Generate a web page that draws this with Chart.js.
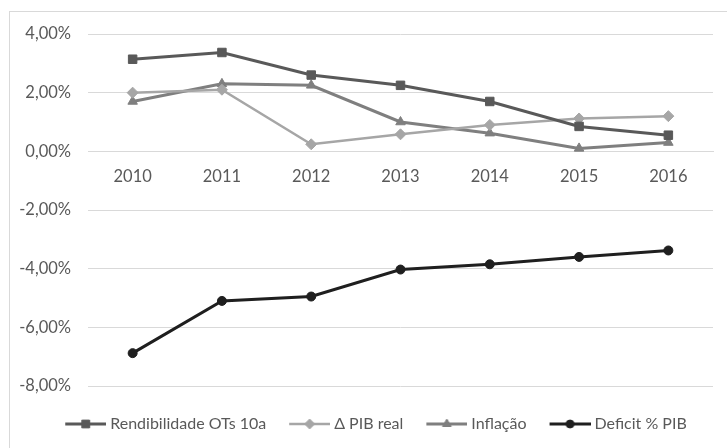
<!DOCTYPE html>
<html>
<head>
<meta charset="utf-8">
<script src="https://cdn.jsdelivr.net/npm/chart.js@4/dist/chart.umd.min.js"></script>
<style>
  html, body { margin: 0; padding: 0; background: #fff; overflow: hidden; }
  #wrap { position: relative; width: 727px; height: 448px; }
  #frame { position: absolute; left: 9px; top: 11px; width: 740px; height: 460px;
           border-left: 1px solid #d9d9d9; border-top: 1px solid #d9d9d9; box-sizing: border-box; }
  #chart { position: absolute; left: 0; top: 0; }
</style>
</head>
<body>
<div id="wrap">
  <div id="frame"></div>
  <canvas id="chart" width="727" height="448"></canvas>
</div>
<script>
// ---- data ----
const years = ['2010', '2011', '2012', '2013', '2014', '2015', '2016'];
const seriesNames = ['Rendibilidade OTs 10a', 'Δ PIB real', 'Inflação', 'Deficit % PIB'];
const rendOT = [3.14, 3.37, 2.60, 2.25, 1.70, 0.85, 0.55];
const pibReal = [2.00, 2.10, 0.24, 0.58, 0.90, 1.12, 1.20];
const inflacao = [1.70, 2.30, 2.25, 1.00, 0.62, 0.10, 0.30];
const deficit = [-6.88, -5.10, -4.95, -4.03, -3.85, -3.60, -3.38];
const yTicks = [-8, -6, -4, -2, 0, 2, 4];

const colors = ['#595959', '#a6a6a6', '#7f7f7f', '#1f1f1f'];
const styles = ['rect', 'rectRot', 'triangle', 'circle'];
const radii = [6, 5.5, 5.5, 4.5];
const widths = [3, 2.5, 3, 3];
const fontFamily = 'Lato, "Open Sans", sans-serif';
const fontSize = 16.5;
const legendFontSize = 16;
const textColor = '#595959';

// legend symbol: line with marker, drawn on a small canvas
function legendSymbol(i) {
  const c = document.createElement('canvas');
  c.width = 64; c.height = 16;
  const ctx = c.getContext('2d');
  ctx.strokeStyle = colors[i];
  ctx.lineWidth = widths[i];
  ctx.beginPath(); ctx.moveTo(23, 8); ctx.lineTo(64, 8); ctx.stroke();
  ctx.fillStyle = colors[i];
  ctx.lineWidth = 1;
  Chart.helpers.drawPoint(ctx, { pointStyle: styles[i], radius: radii[i] - 0.5, borderWidth: 1, rotation: 0 }, 43.5, 8);
  return c;
}
const symbols = seriesNames.map((_, i) => legendSymbol(i));

const allData = [rendOT, pibReal, inflacao, deficit];
const fmt = v => v.toFixed(2).replace('.', ',') + '%';

new Chart(document.getElementById('chart'), {
  type: 'line',
  data: {
    labels: years,
    datasets: seriesNames.map((name, i) => ({
      label: name,
      data: allData[i],
      borderColor: colors[i],
      backgroundColor: colors[i],
      borderWidth: widths[i],
      pointStyle: styles[i],
      pointRadius: radii[i],
      pointBackgroundColor: colors[i],
      pointBorderColor: colors[i],
      pointBorderWidth: 1,
      tension: 0,
      fill: false
    }))
  },
  options: {
    responsive: false,
    animation: false,
    layout: { padding: { left: 20, right: 14, top: 34, bottom: 6 } },
    plugins: {
      tooltip: { enabled: false },
      legend: {
        position: 'bottom',
        title: { display: true, text: '', font: { size: 10, lineHeight: 1 }, padding: { top: 8, bottom: 8 } },
        labels: {
          usePointStyle: true,
          pointStyleWidth: 56,
          padding: 4,
          color: textColor,
          font: { family: fontFamily, size: legendFontSize },
          generateLabels: chart => Chart.defaults.plugins.legend.labels.generateLabels(chart)
            .map((l, i) => ({ ...l, pointStyle: symbols[i] }))
        }
      }
    },
    scales: {
      x: {
        position: { y: 0 },
        offset: true,
        grid: { display: false, drawTicks: false },
        border: { display: true, color: '#d9d9d9', width: 1 },
        ticks: { color: textColor, padding: 15, font: { family: fontFamily, size: fontSize } }
      },
      y: {
        min: yTicks[0],
        max: yTicks[yTicks.length - 1],
        afterFit: s => { s.width = 68; },
        afterBuildTicks: s => { s.ticks = yTicks.map(v => ({ value: v })); },
        grid: { color: '#d9d9d9', lineWidth: 1, drawTicks: false },
        border: { display: false },
        ticks: { color: textColor, padding: 17, font: { family: fontFamily, size: fontSize }, callback: v => fmt(v) }
      }
    }
  }
});
</script>
</body>
</html>
